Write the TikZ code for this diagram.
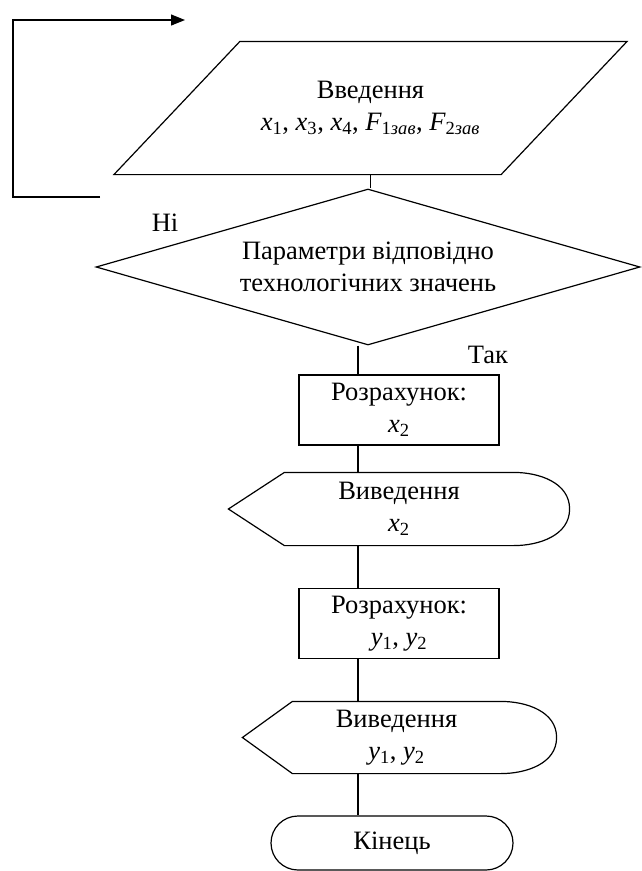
\documentclass[tikz,border=0pt]{standalone}
\usepackage{fontspec}
\setmainfont{Liberation Serif}
\usetikzlibrary{shapes.geometric,shapes.misc,arrows.meta}

\begin{document}
\begin{tikzpicture}[
    x=1pt, y=-1pt, line width=1.2pt,
    every node/.style={align=center, text centered, inner sep=0pt, font=\fontsize{26.5}{32}\selectfont},
    calcbox/.style={draw, rectangle, minimum width=200, minimum height=70},
    decision/.style={draw, diamond, aspect=3.5, minimum width=544, minimum height=156},
    terminal/.style={draw, rounded rectangle, minimum width=242, minimum height=54},
    ]
    \useasboundingbox (0,0) rectangle (641,871);

    % Input
    \node[minimum width=386, minimum height=132] (input) at (370.5, 108) {Введення\\\textit{x}\textsubscript{1}, \textit{x}\textsubscript{3}, \textit{x}\textsubscript{4}, \textit{F}\textsubscript{1\textit{зав}}, \textit{F}\textsubscript{2\textit{зав}}};
    \draw ([xshift=63]input.north west) -- ([xshift=63]input.north east) -- ([xshift=-63]input.south east) -- ([xshift=-63]input.south west) -- cycle;

    % Check
    \node[decision] (cond) at (368, 267) {Параметри відповідно\\технологічних значень};
    \node (no) at (165, 223) {Ні};
    \node (yes) at (488, 355) {Так};

    % Calculation and output
    \node[calcbox] (calc1) at (399, 410) {Розрахунок:\\\textit{x}\textsubscript{2}};
    \node[minimum width=228, minimum height=72] (out1) at (399, 509) {Виведення\\\textit{x}\textsubscript{2}};
    \draw (out1.north west) -- (out1.north east) to[out=0, in=90] ([xshift=56]out1.east) to[out=-90, in=0] (out1.south east) -- (out1.south west) -- ([xshift=-56]out1.west) -- cycle;
    \node[calcbox] (calc2) at (399, 623.5) {Розрахунок:\\\textit{y}\textsubscript{1}, \textit{y}\textsubscript{2}};
    \node[minimum width=207, minimum height=71] (out2) at (396.5, 737.5) {Виведення\\\textit{y}\textsubscript{1}, \textit{y}\textsubscript{2}};
    \draw (out2.north west) -- (out2.north east) to[out=0, in=90] ([xshift=56]out2.east) to[out=-90, in=0] (out2.south east) -- (out2.south west) -- ([xshift=-50]out2.west) -- cycle;

    % End
    \node[terminal] (stop) at (392, 843) {Кінець};

    % Loop back
    \coordinate (spine) at (358, 0);
    \coordinate (noStart) at (100, 197);
    \coordinate (noLow) at (13, 197);
    \coordinate (noHigh) at (13, 20);
    \coordinate (noEnd) at (185, 20);

    % Edges
    \draw (input.south) -- (input.south |- cond.north);
    \draw (cond.south -| spine) -- (calc1.north -| spine);
    \draw (calc1.south -| spine) -- (out1.north -| spine);
    \draw (out1.south -| spine) -- (calc2.north -| spine);
    \draw (calc2.south -| spine) -- (out2.north -| spine);
    \draw (out2.south -| spine) -- (stop.north -| spine);
    \draw[-{Triangle[length=14pt, width=11pt]}] (noStart) -- (noLow) -- (noHigh) -- (noEnd);
  \end{tikzpicture}
\end{document}
